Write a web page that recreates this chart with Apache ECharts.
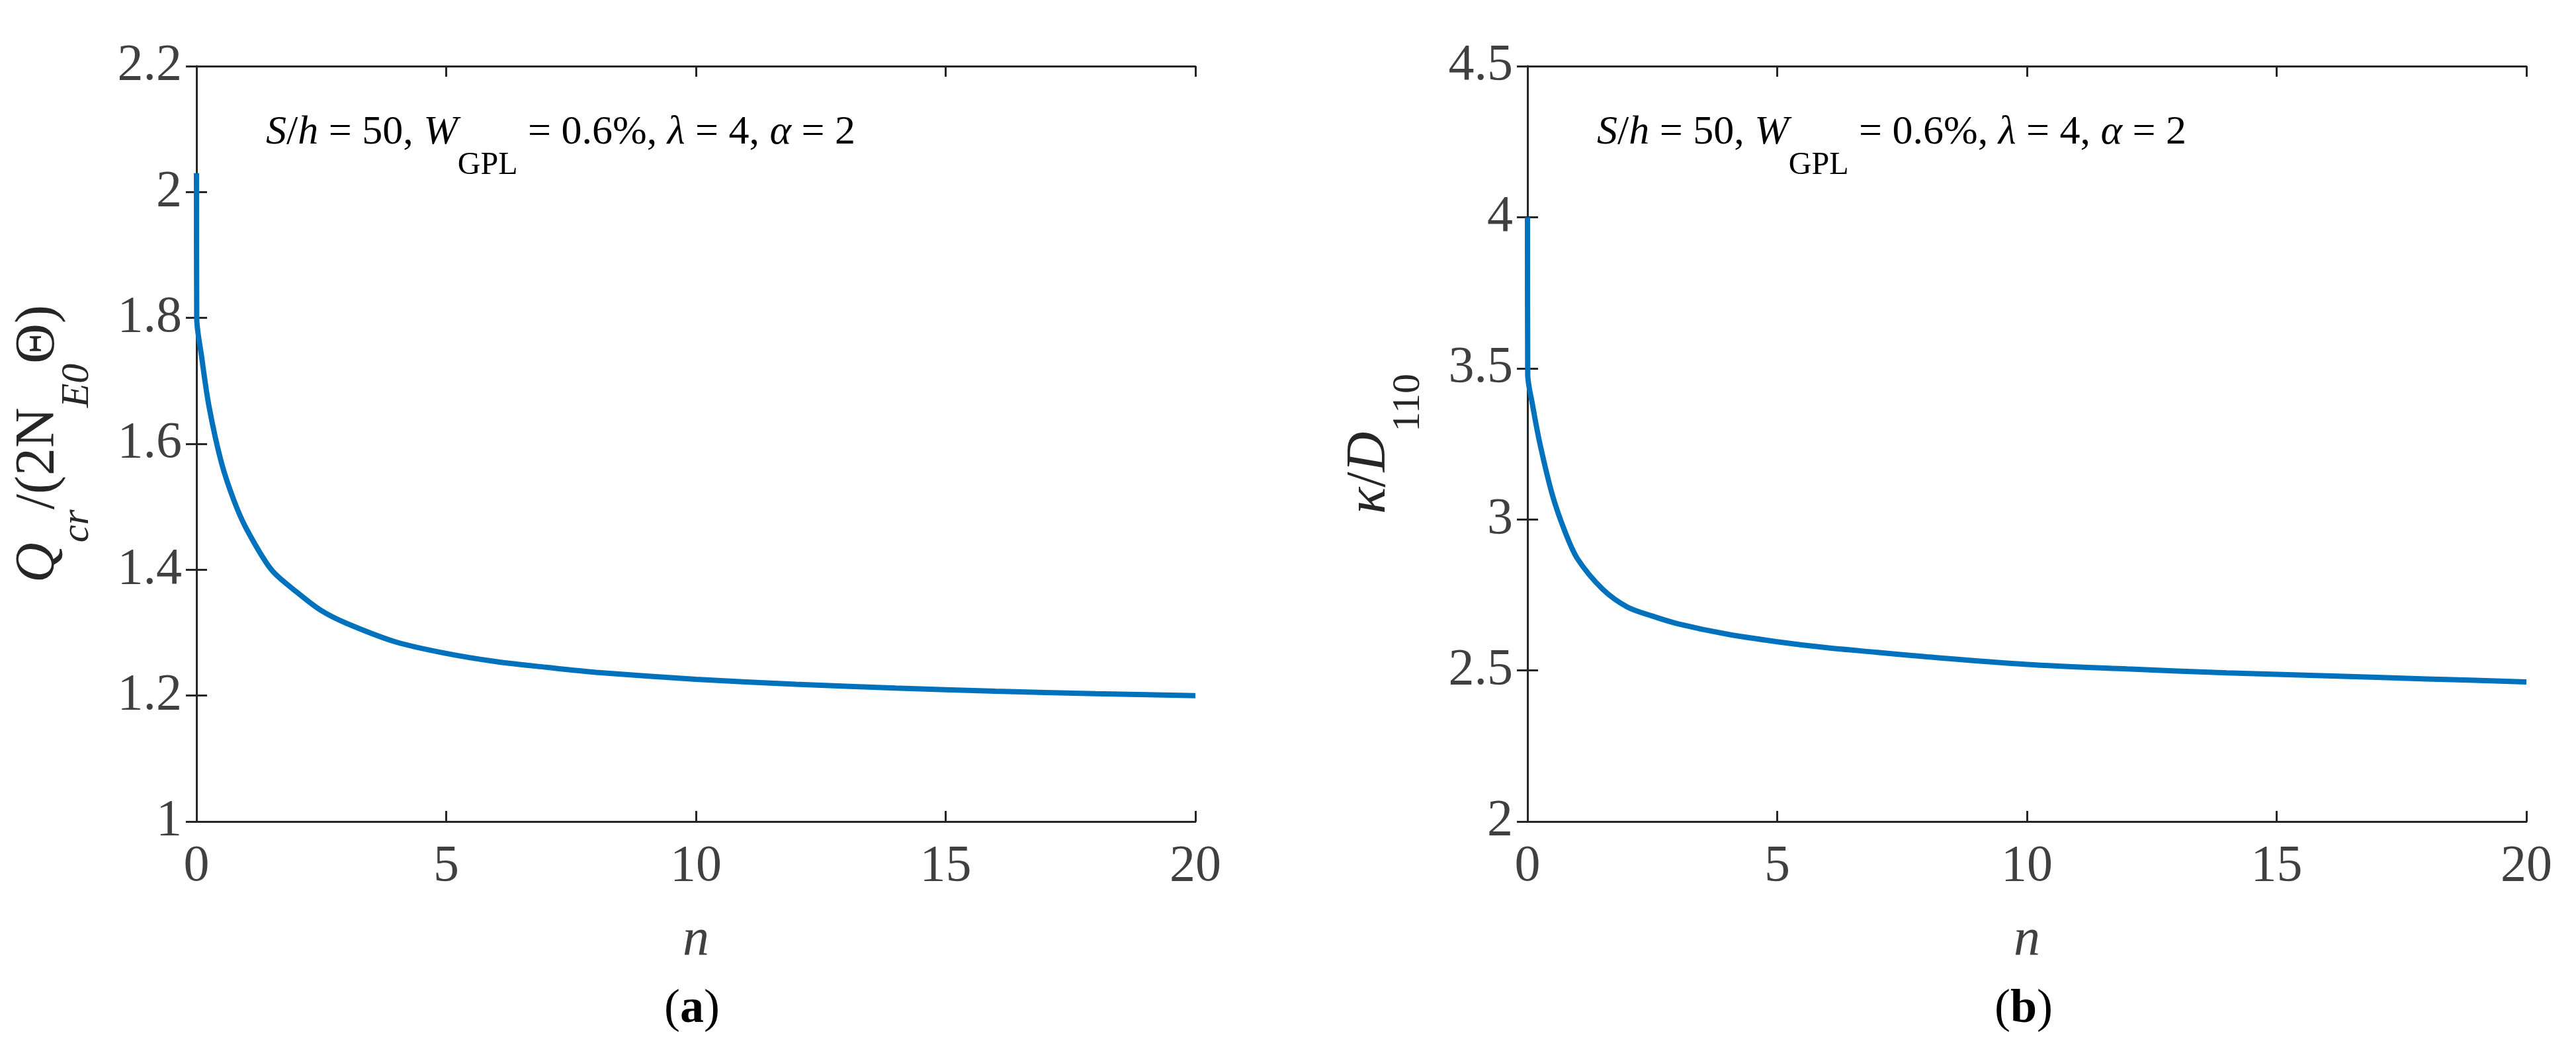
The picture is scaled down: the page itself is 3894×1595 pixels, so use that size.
<!DOCTYPE html>
<html><head><meta charset="utf-8">
<script src="https://cdn.jsdelivr.net/npm/echarts@6/dist/echarts.min.js"></script>
<style>html,body{margin:0;padding:0;background:#fff}#c{width:3894px;height:1595px}</style>
</head><body><div id="c"></div>
<script>
const nValues = [0, 0.005, 0.1, 0.25, 0.5, 0.75, 1, 1.5, 2, 2.5, 3, 4, 5, 6, 7, 8, 10, 12, 14, 16, 18, 20];
const qcrValues = [2.03,1.80,1.74,1.66,1.57,1.51,1.465,1.40,1.365,1.335,1.315,1.285,1.267,1.254,1.245,1.237,1.226,1.218,1.212,1.207,1.203,1.200];
const kappaValues = [4.0,3.48,3.38,3.25,3.08,2.96,2.87,2.77,2.71,2.68,2.655,2.62,2.595,2.575,2.56,2.545,2.52,2.505,2.492,2.482,2.472,2.462];
const xTicks = [0, 5, 10, 15, 20];
const panelLabels = ['a', 'b'];

const F = 'Liberation Serif';
const grids = [
  {left: 297, width: 1510, top: 100, height: 1142},
  {left: 2309, width: 1510, top: 100, height: 1142}
];
const axisLine = {show: true, lineStyle: {color: '#262626', width: 3}};
const tick = {show: true, inside: true, length: 16, lineStyle: {color: '#262626', width: 3}};
const lbl = {fontFamily: F, fontSize: 78, color: '#404040'};
const xAxis = [], yAxis = [];
const yCfg = [{min: 1, max: 2.2, interval: 0.2}, {min: 2, max: 4.5, interval: 0.5}];
for (let i = 0; i < 2; i++) {
  xAxis.push({type: 'value', gridIndex: i, min: xTicks[0], max: xTicks[xTicks.length-1], interval: 5, position: 'bottom',
    axisLine, axisTick: tick, splitLine: {show: false},
    axisLabel: {...lbl, margin: 30},
    name: 'n', nameLocation: 'middle', nameGap: 140,
    nameTextStyle: {fontFamily: F, fontSize: 80, fontStyle: 'italic', color: '#404040'}});
  xAxis.push({type: 'value', gridIndex: i, min: 0, max: 20, interval: 5, position: 'top',
    axisLine, axisTick: tick, axisLabel: {show: false}, splitLine: {show: false}});
  yAxis.push({type: 'value', gridIndex: i, ...yCfg[i], position: 'left',
    axisLine, axisTick: tick, splitLine: {show: false},
    axisLabel: {...lbl, margin: 22, formatter: v => String(+v.toFixed(1))},
    name: i === 0 ? '{i|Q}{si|cr}{n|/(2N}{si|E0}{n|Θ)}' : '{i|κ}{n|/}{i|D}{s|110}',
    nameLocation: 'middle', nameGap: 150, nameRotate: 90,
    nameTextStyle: {fontFamily: F, fontSize: 80, color: '#262626',
      rich: {
        i: {fontFamily: F, fontSize: 84, fontStyle: 'italic', color: '#262626', lineHeight: 84, verticalAlign: 'top'},
        n: {fontFamily: F, fontSize: 84, color: '#262626', lineHeight: 84, verticalAlign: 'top'},
        si: {fontFamily: F, fontSize: 60, fontStyle: 'italic', color: '#262626', lineHeight: 130, verticalAlign: 'bottom'},
        s: {fontFamily: F, fontSize: 60, color: '#262626', lineHeight: 130, verticalAlign: 'bottom'}
      }}});
  yAxis.push({type: 'value', gridIndex: i, ...yCfg[i], position: 'right',
    axisLine, axisTick: tick, axisLabel: {show: false}, splitLine: {show: false}});
}
const mk = arr => nValues.map((n, k) => [n, arr[k]]);
const series = [qcrValues, kappaValues].map((arr, i) => ({
  type: 'line', xAxisIndex: 2*i, yAxisIndex: 2*i, data: mk(arr), smooth: 0.3, showSymbol: false,
  lineStyle: {color: '#0072BD', width: 8}, clip: true
}));
const annRich = {
  i: {fontFamily: F, fontSize: 62, fontStyle: 'italic', color: '#000', lineHeight: 66, verticalAlign: 'top'},
  n: {fontFamily: F, fontSize: 62, color: '#000', lineHeight: 66, verticalAlign: 'top'},
  s: {fontFamily: F, fontSize: 48, color: '#000', lineHeight: 104, verticalAlign: 'bottom'}
};
const annText = '{i|S}{n|/}{i|h}{n| = 50, }{i|W}{s|GPL}{n| = 0.6%, }{i|λ}{n| = 4, }{i|α}{n| = 2}';
const graphic = [];
const annX = [402, 2414], capX = [1052, 3063];
for (let i = 0; i < 2; i++) {
  graphic.push({type: 'text', left: annX[i], top: 170, style: {text: annText, rich: annRich}});
  graphic.push({type: 'text', left: capX[i] - 48, top: 1490, style: {
    text: '{n|(}{b|' + panelLabels[i] + '}{n|)}',
    rich: {n: {fontFamily: F, fontSize: 72, color: '#000'}, b: {fontFamily: F, fontSize: 72, fontWeight: 'bold', color: '#000'}}}});
}
const chart = echarts.init(document.getElementById('c'));
chart.setOption({animation: false, backgroundColor: '#fff', grid: grids, xAxis, yAxis, series, graphic});
</script></body></html>
